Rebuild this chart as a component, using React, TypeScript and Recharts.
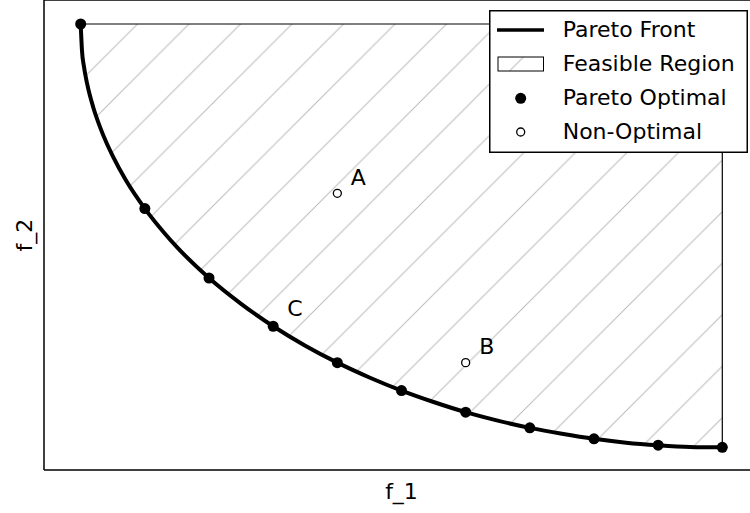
import {
  ComposedChart,
  XAxis,
  YAxis,
  Area,
  Line,
  Scatter,
  ReferenceLine,
  Legend,
} from "recharts";

// Pareto optimal points (f1, f2)
const paretoF1 = [0, 0.1, 0.2, 0.3, 0.4, 0.5, 0.6, 0.7, 0.8, 0.9, 1];
const paretoF2 = [1, 0.564, 0.4, 0.286, 0.2, 0.134, 0.083, 0.046, 0.02, 0.005, 0];
const paretoNames = ["", "", "", "C", "", "", "", "", "", "", ""];

// denser samples of the front curve
const frontF1 = [
  0, 0.002, 0.005, 0.01, 0.02, 0.03, 0.04, 0.05, 0.07, 0.1, 0.13, 0.15, 0.2, 0.25,
  0.3, 0.35, 0.4, 0.45, 0.5, 0.55, 0.6, 0.65, 0.7, 0.75, 0.8, 0.85, 0.9, 0.95, 1,
];
const frontF2 = [
  1, 0.937, 0.9, 0.859, 0.801, 0.757, 0.72, 0.688, 0.632, 0.564, 0.507, 0.473, 0.4,
  0.339, 0.286, 0.24, 0.2, 0.165, 0.134, 0.107, 0.083, 0.063, 0.046, 0.032, 0.02,
  0.011, 0.005, 0.001, 0,
];

// non-optimal points
const otherF1 = [0.4, 0.6];
const otherF2 = [0.6, 0.2];
const otherNames = ["A", "B"];

const feasibleTop = 1;
const feasibleRight = 1;

const legendLabels = ["Pareto Front", "Feasible Region", "Pareto Optimal", "Non-Optimal"];

const X_DOMAIN = [-0.0572, 1.0572];
const Y_DOMAIN = [-0.0536, 1.0567];

const frontData = frontF1.map((f1, i) => ({ f1, f2: frontF2[i] }));
const regionData = frontF1.map((f1, i) => ({ f1, range: [frontF2[i], feasibleTop] }));
const paretoData = paretoF1.map((f1, i) => ({ f1, f2: paretoF2[i], name: paretoNames[i] }));
const otherData = otherF1.map((f1, i) => ({ f1, f2: otherF2[i], name: otherNames[i] }));

const FONT = "'DejaVu Sans', sans-serif";

const FilledDot = (props: any) => {
  const { cx, cy, payload } = props;
  return (
    <g>
      <circle cx={cx} cy={cy} r={5.5} fill="#000" />
      {payload.name ? (
        <text x={cx + 14} y={cy - 10} fontSize={22} fill="#000" fontFamily={FONT}>
          {payload.name}
        </text>
      ) : null}
    </g>
  );
};

const OpenDot = (props: any) => {
  const { cx, cy, payload } = props;
  return (
    <g>
      <circle cx={cx} cy={cy} r={4} fill="#fff" stroke="#000" strokeWidth={1.3} />
      <text x={cx + 13.5} y={cy - 8.5} fontSize={22} fill="#000" fontFamily={FONT}>
        {payload.name}
      </text>
    </g>
  );
};

const LegendBox = () => {
  const baselines = [27.3, 60.7, 95, 129.3];
  return (
    <svg width={259} height={143} style={{ display: "block" }}>
      <defs>
        <pattern
          id="hatchLegend"
          patternUnits="userSpaceOnUse"
          width={51.5}
          height={51.5}
          patternTransform="translate(30,0)"
        >
          <path
            d="M-2,2 L2,-2 M-2,53.5 L53.5,-2 M49.5,53.5 L53.5,49.5"
            stroke="#bbbbbb"
            strokeWidth={1}
          />
        </pattern>
      </defs>
      <rect x={0.75} y={0.75} width={257.5} height={141.5} fill="#fff" stroke="#000" strokeWidth={1.5} />
      <line x1={8} x2={55} y1={20} y2={20} stroke="#000" strokeWidth={3.5} />
      <rect x={9} y={47} width={45.5} height={14} fill="url(#hatchLegend)" stroke="#000" strokeWidth={1} />
      <circle cx={31.7} cy={88.3} r={5.5} fill="#000" />
      <circle cx={31.7} cy={122} r={4} fill="#fff" stroke="#000" strokeWidth={1.3} />
      {legendLabels.map((label, i) => (
        <text key={label} x={73.7} y={baselines[i]} fontSize={22} fill="#000" fontFamily={FONT}>
          {label}
        </text>
      ))}
    </svg>
  );
};

export default function App() {
  return (
    <div style={{ position: "absolute", left: 0, top: 0, fontFamily: FONT }}>
      <ComposedChart
        width={750}
        height={513}
        margin={{ top: 0, right: -9, bottom: 0, left: 0 }}
      >
        <defs>
          <pattern
            id="hatch"
            patternUnits="userSpaceOnUse"
            width={51.5}
            height={51.5}
            patternTransform="translate(7,0)"
          >
            <path
              d="M-2,2 L2,-2 M-2,53.5 L53.5,-2 M49.5,53.5 L53.5,49.5"
              stroke="#bbbbbb"
              strokeWidth={1}
            />
          </pattern>
        </defs>
        <XAxis
          dataKey="f1"
          type="number"
          domain={X_DOMAIN}
          allowDataOverflow
          tick={false}
          tickLine={false}
          height={43}
          axisLine={{ stroke: "#000", strokeWidth: 1.5 }}
          label={{ value: "f_1", position: "insideBottom", offset: 14, fontSize: 22, fill: "#000", fontFamily: FONT }}
        />
        <YAxis
          dataKey="f2"
          type="number"
          domain={Y_DOMAIN}
          allowDataOverflow
          tick={false}
          tickLine={false}
          width={44}
          axisLine={{ stroke: "#000", strokeWidth: 1.5 }}
          label={{
            value: "f_2",
            angle: -90,
            position: "insideLeft",
            offset: 24,
            fontSize: 22,
            fill: "#000",
            fontFamily: FONT,
            style: { textAnchor: "middle" },
          }}
        />
        <ReferenceLine y={Y_DOMAIN[1]} stroke="#000" strokeWidth={1.5} ifOverflow="visible" />
        <Area
          data={regionData}
          dataKey="range"
          type="monotone"
          fill="url(#hatch)"
          fillOpacity={1}
          stroke="#000"
          strokeWidth={1.2}
          dot={false}
          activeDot={false}
          isAnimationActive={false}
        />
        <ReferenceLine
          segment={[
            { x: feasibleRight, y: 0 },
            { x: feasibleRight, y: feasibleTop },
          ]}
          stroke="#000"
          strokeWidth={1.2}
        />
        <Line
          data={frontData}
          dataKey="f2"
          type="monotone"
          stroke="#000"
          strokeWidth={4}
          dot={false}
          activeDot={false}
          isAnimationActive={false}
        />
        <Scatter data={paretoData} shape={FilledDot} isAnimationActive={false} />
        <Scatter data={otherData} shape={OpenDot} isAnimationActive={false} />
        <Legend
          layout="horizontal"
          verticalAlign="middle"
          align="center"
          content={() => <LegendBox />}
          wrapperStyle={{ left: 489, top: 10, width: 259, height: 143 }}
        />
      </ComposedChart>
    </div>
  );
}
